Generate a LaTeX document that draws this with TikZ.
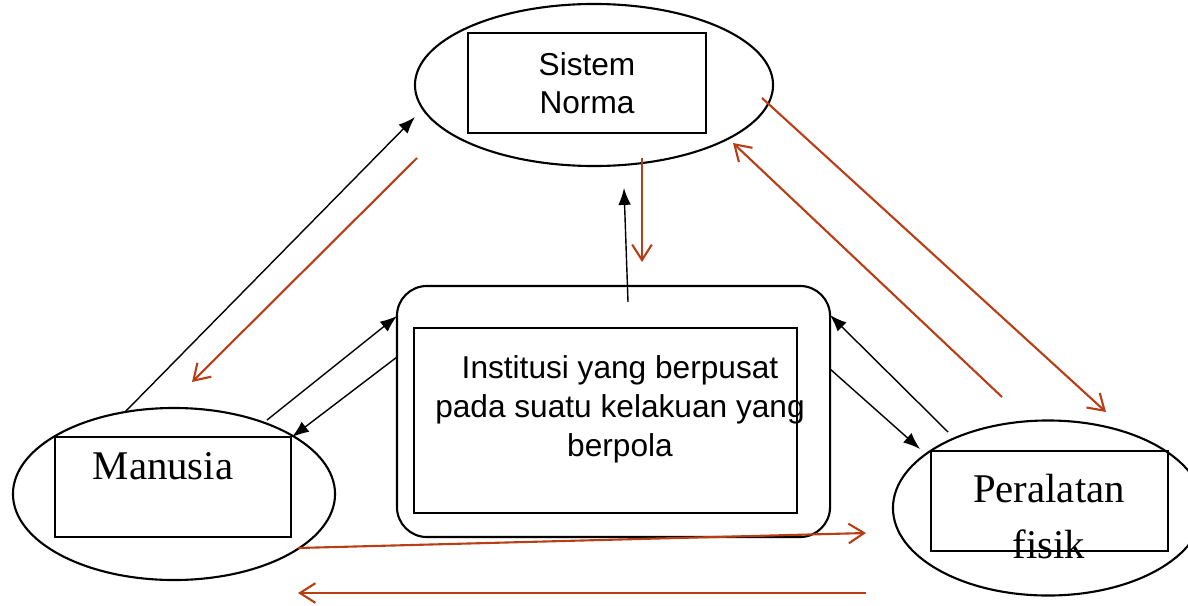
\documentclass[tikz,border=0pt]{standalone}
\usepackage{fontspec}
\setmainfont{Liberation Serif}
\setsansfont{Liberation Sans}
\usetikzlibrary{positioning,arrows.meta,shapes.geometric}
\definecolor{rust}{RGB}{184,62,22}

\begin{document}
\begin{tikzpicture}[x=0.025cm,y=-0.025cm,
  oval/.style={ellipse,draw,line width=1.5pt,inner sep=0pt},
  box/.style={rectangle,draw,line width=1.5pt,inner sep=0pt},
  sans text/.style={font=\sffamily\fontsize{22.5}{27.4}\selectfont,align=center},
  serif text/.style={font=\fontsize{29}{39.8}\selectfont,align=center},
  fwd/.style={-{Latex[length=12pt,width=9pt]},line width=1pt},
  back/.style={-{Straight Barb[length=11pt,width=14pt]},line width=1.5pt,color=rust}]
  \useasboundingbox (0,0) rectangle (1188,605);

  \node[oval,minimum width=8.95cm,minimum height=4.05cm] (norm) at (594,85) {};
  \node[box,sans text,minimum width=5.95cm,minimum height=2.5cm] (normbox) at (587,83) {Sistem\\Norma};

  \node[oval,minimum width=8.05cm,minimum height=4.3cm] (manusia) at (174,494) {};
  \node[box,minimum width=5.9cm,minimum height=2.5cm] (manusiabox) at (173,487) {};
  \node[serif text,anchor=base] (manusiatxt) at (163,479) {Manusia};

  \node[oval,minimum width=7.75cm,minimum height=4.375cm] (alat) at (1048,508) {};
  \node[box,minimum width=5.925cm,minimum height=2.5cm] (alatbox) at (1049.5,501) {};
  \node[serif text,anchor=base] (alattxt) at (1049,558) {Peralatan\\fisik};

  \node[box,rounded corners=0.75cm,minimum width=10.825cm,minimum height=6.275cm] (inst) at (613.5,411.5) {};
  \node[box,minimum width=9.575cm,minimum height=4.625cm] (instbox) at (605.5,420.5) {};
  \node[sans text,anchor=base] (insttxt) at (620,456) {Institusi yang berpusat\\pada suatu kelakuan yang\\berpola};

  % ends of the connectors
  \coordinate (m1) at (125,412);  \coordinate (n1) at (415,117);
  \coordinate (i1) at (628,302);  \coordinate (n2) at (624,188);
  \coordinate (m2) at (267,420);  \coordinate (i2) at (397,316);
  \coordinate (i3) at (397,357);  \coordinate (m3) at (292,437);
  \coordinate (a1) at (948,432);  \coordinate (i4) at (830,315);
  \coordinate (i5) at (830,369);  \coordinate (a2) at (920,449);
  \coordinate (n3) at (417,158);  \coordinate (m4) at (192,382);
  \coordinate (n4) at (642,158);  \coordinate (i6) at (642,262);
  \coordinate (a3) at (1002,397); \coordinate (n5) at (733,143);
  \coordinate (n6) at (762,98);   \coordinate (a4) at (1106,412);
  \coordinate (m5) at (298,548);  \coordinate (a5) at (866,533);
  \coordinate (a6) at (866,593);  \coordinate (m6) at (298,593);

  \path[fwd]
    (m1) edge (n1)
    (i1) edge (n2)
    (m2) edge (i2)
    (i3) edge (m3)
    (a1) edge (i4)
    (i5) edge (a2);
  \path[back]
    (n3) edge (m4)
    (n4) edge (i6)
    (a3) edge (n5)
    (n6) edge (a4)
    (m5) edge (a5)
    (a6) edge (m6);
\end{tikzpicture}
\end{document}
